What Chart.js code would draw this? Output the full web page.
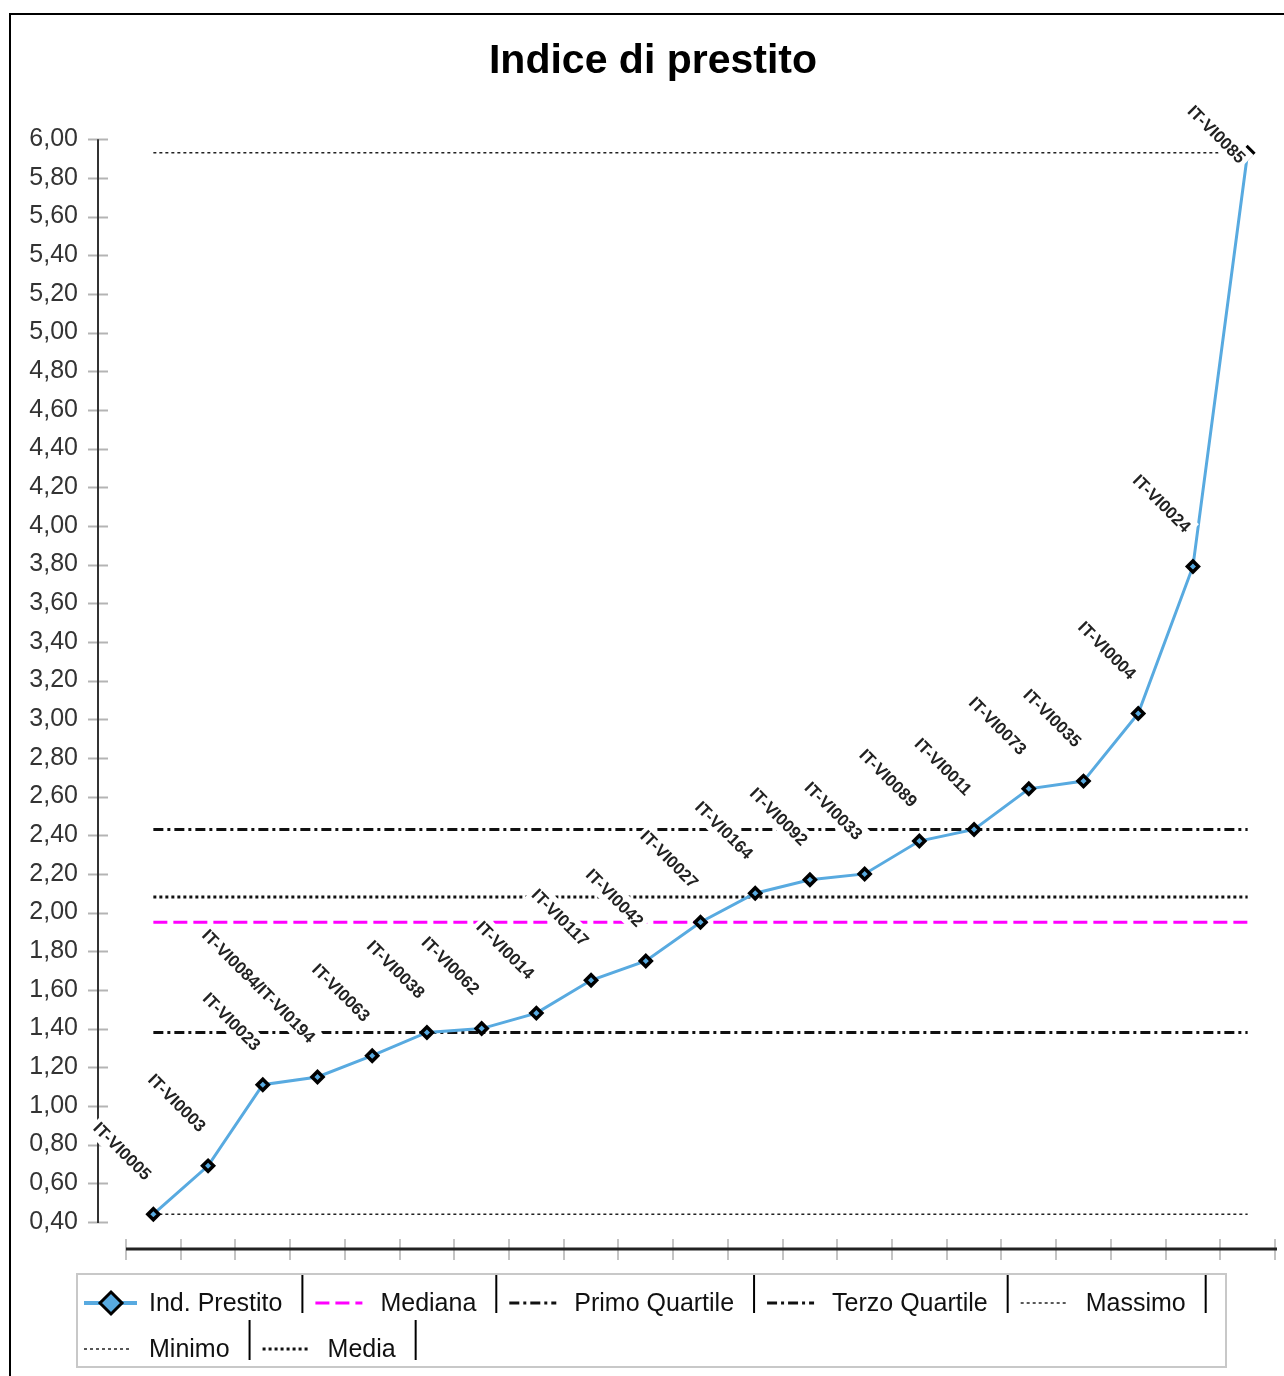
<!DOCTYPE html>
<html>
<head>
<meta charset="utf-8">
<script src="https://cdn.jsdelivr.net/npm/chart.js@4.4.1/dist/chart.umd.min.js"></script>
<style>
  html, body { margin: 0; padding: 0; background: #fff; overflow: hidden; }
  #cornice { position: absolute; left: 9px; top: 13px; width: 1400px; height: 1500px; border: 2px solid #000; }
  #wrap { position: absolute; left: 0; top: 0; width: 1284px; height: 1376px; }
</style>
</head>
<body>
<div id="cornice"></div>
<div id="wrap"><canvas id="grafico"></canvas></div>
<script>
// Dati
const categorie = ['IT-VI0005', 'IT-VI0003', 'IT-VI0023', 'IT-VI0084/IT-VI0194', 'IT-VI0063',
  'IT-VI0038', 'IT-VI0062', 'IT-VI0014', 'IT-VI0117', 'IT-VI0042', 'IT-VI0027', 'IT-VI0164',
  'IT-VI0092', 'IT-VI0033', 'IT-VI0089', 'IT-VI0011', 'IT-VI0073', 'IT-VI0035', 'IT-VI0004',
  'IT-VI0024', 'IT-VI0085'];
const indicePrestito = [0.44, 0.69, 1.11, 1.15, 1.26, 1.38, 1.40, 1.48, 1.65, 1.75, 1.95,
  2.10, 2.17, 2.20, 2.37, 2.43, 2.64, 2.68, 3.03, 3.79, 5.93];
const mediana = 1.95;
const primoQuartile = 1.38;
const terzoQuartile = 2.43;
const massimo = 5.93;
const minimo = 0.44;
const media = 2.08;
const yTicks = [0.4, 0.6, 0.8, 1.0, 1.2, 1.4, 1.6, 1.8, 2.0, 2.2, 2.4, 2.6, 2.8, 3.0, 3.2,
  3.4, 3.6, 3.8, 4.0, 4.2, 4.4, 4.6, 4.8, 5.0, 5.2, 5.4, 5.6, 5.8, 6.0];

const FONT = "'Liberation Sans', Arial, sans-serif";
const BLU = '#58aae0';

// serie costante per le linee statistiche
const costante = (v) => categorie.map(() => v);

const lineaStat = (label, valore, colore, larghezza, tratteggio) => ({
  label: label,
  data: costante(valore),
  borderColor: colore,
  backgroundColor: colore,
  borderWidth: larghezza,
  borderDash: tratteggio,
  pointRadius: 0,
  pointHoverRadius: 0,
  fill: false,
  tension: 0
});

// Assi disegnati a mano (stile JFreeChart)
const assiPlugin = {
  id: 'assi',
  beforeDatasetsDraw(chart) {
    const { ctx, chartArea, scales } = chart;
    const x = scales.x, y = scales.y;
    ctx.save();
    // asse y
    const ax = chartArea.left - 28;
    ctx.strokeStyle = '#b4b4b4';
    ctx.lineWidth = 2;
    yTicks.forEach(v => {
      const py = Math.round(y.getPixelForValue(v)) + 0.5;
      ctx.beginPath();
      ctx.moveTo(ax - 10, py);
      ctx.lineTo(ax + 10, py);
      ctx.stroke();
    });
    ctx.strokeStyle = '#333';
    ctx.lineWidth = 2;
    ctx.beginPath();
    ctx.moveTo(ax, y.getPixelForValue(yTicks[yTicks.length - 1]));
    ctx.lineTo(ax, y.getPixelForValue(yTicks[0]) + 1);
    ctx.stroke();
    // asse x
    const w = x.getPixelForValue(1) - x.getPixelForValue(0);
    const by = chartArea.bottom;
    ctx.strokeStyle = '#c4c4c4';
    ctx.lineWidth = 2;
    for (let i = 0; i <= categorie.length; i++) {
      const px = Math.round(x.getPixelForValue(0) - w / 2 + i * w);
      ctx.beginPath();
      ctx.moveTo(px, by - 10);
      ctx.lineTo(px, by + 11);
      ctx.stroke();
    }
    ctx.strokeStyle = '#222';
    ctx.lineWidth = 3;
    ctx.beginPath();
    ctx.moveTo(chartArea.left, by);
    ctx.lineTo(chartArea.right + 2, by);
    ctx.stroke();
    ctx.restore();
  }
};

// Etichette ruotate sopra i punti, con fondo bianco
const etichettePlugin = {
  id: 'etichette',
  afterDatasetsDraw(chart) {
    const { ctx, scales } = chart;
    const meta = chart.getDatasetMeta(0);
    const topLimite = scales.y.getPixelForValue(yTicks[yTicks.length - 1]) - 37;
    ctx.save();
    ctx.font = 'bold 17px ' + FONT;
    meta.data.forEach((pt, i) => {
      const testo = categorie[i];
      const tw = ctx.measureText(testo).width;
      const h = 17;
      const s = Math.SQRT1_2;
      const ax = pt.x - 5;
      let ay = pt.y - 37;
      const minAy = topLimite + s * (tw + h / 2);
      if (ay < minAy) ay = minAy;
      ctx.save();
      ctx.translate(ax, ay);
      ctx.rotate(Math.PI / 4);
      ctx.fillStyle = '#fff';
      ctx.fillRect(-tw - 3, -h / 2 - 3, tw + 7, h + 6);
      ctx.fillStyle = '#222';
      ctx.textAlign = 'right';
      ctx.textBaseline = 'middle';
      ctx.fillText(testo, 0, 1);
      ctx.restore();
    });
    ctx.restore();
  }
};

// Legenda a riquadro in basso
const legendaPlugin = {
  id: 'legenda',
  afterDraw(chart) {
    const { ctx } = chart;
    const ds = chart.data.datasets;
    const righe = [[0, 1, 2, 3, 4], [5, 6]];
    const rigaY = [1303, 1349];
    const rigaTop = [1275, 1320];
    const rigaBottom = [1313, 1360];
    ctx.save();
    ctx.strokeStyle = '#c8c8c8';
    ctx.lineWidth = 2;
    ctx.strokeRect(77, 1274, 1149, 93);
    ctx.font = '25px ' + FONT;
    ctx.textBaseline = 'middle';
    righe.forEach((riga, r) => {
      let x0 = 71;
      const cy = rigaY[r];
      riga.forEach(k => {
        const d = ds[k];
        ctx.save();
        ctx.strokeStyle = d.borderColor;
        ctx.lineWidth = d.borderWidth;
        ctx.setLineDash(d.borderDash || []);
        ctx.beginPath();
        if (k === 0) {
          ctx.lineWidth = 4;
          ctx.moveTo(x0 + 13, cy);
          ctx.lineTo(x0 + 66, cy);
          ctx.stroke();
          const cx = x0 + 40;
          ctx.setLineDash([]);
          ctx.beginPath();
          ctx.moveTo(cx, cy - 11);
          ctx.lineTo(cx + 11, cy);
          ctx.lineTo(cx, cy + 11);
          ctx.lineTo(cx - 11, cy);
          ctx.closePath();
          ctx.fillStyle = BLU;
          ctx.fill();
          ctx.strokeStyle = '#000';
          ctx.lineWidth = 3;
          ctx.stroke();
        } else {
          ctx.moveTo(x0 + 13, cy);
          ctx.lineTo(x0 + 60, cy);
          ctx.stroke();
        }
        ctx.restore();
        ctx.fillStyle = '#111';
        ctx.fillText(d.label, x0 + 78, cy + 1);
        const fine = x0 + 78 + ctx.measureText(d.label).width + 20;
        ctx.strokeStyle = '#000';
        ctx.lineWidth = 2;
        ctx.beginPath();
        ctx.moveTo(fine, rigaTop[r]);
        ctx.lineTo(fine, rigaBottom[r]);
        ctx.stroke();
        x0 = fine;
      });
    });
    ctx.restore();
  }
};

const canvas = document.getElementById('grafico');
canvas.width = 1284;
canvas.height = 1376;

new Chart(canvas, {
  type: 'line',
  data: {
    labels: categorie,
    datasets: [
      {
        label: 'Ind. Prestito',
        data: indicePrestito,
        borderColor: BLU,
        backgroundColor: BLU,
        borderWidth: 3,
        pointStyle: 'rectRot',
        pointRadius: 5.5,
        pointBorderWidth: 3.5,
        pointBorderColor: '#000',
        pointBackgroundColor: BLU,
        fill: false,
        tension: 0
      },
      lineaStat('Mediana', mediana, '#ff00ff', 3, [14, 6]),
      lineaStat('Primo Quartile', primoQuartile, '#111', 3, [10, 4, 3, 4]),
      lineaStat('Terzo Quartile', terzoQuartile, '#111', 3, [10, 4, 3, 4]),
      lineaStat('Massimo', massimo, '#222', 1.5, [3, 3]),
      lineaStat('Minimo', minimo, '#222', 1.5, [3, 3]),
      lineaStat('Media', media, '#111', 3, [3, 3])
    ]
  },
  options: {
    responsive: false,
    animation: false,
    devicePixelRatio: 1,
    layout: { padding: { left: 26, right: 4, top: 1, bottom: 127 } },
    plugins: {
      legend: { display: false },
      tooltip: { enabled: false },
      title: {
        display: true,
        text: 'Indice di prestito',
        color: '#000',
        font: { family: FONT, size: 41, weight: 'bold' },
        padding: { top: 36, bottom: 53 }
      }
    },
    scales: {
      x: {
        type: 'category',
        offset: true,
        display: false
      },
      y: {
        min: 0.26,
        max: 6.0,
        afterBuildTicks: (scale) => { scale.ticks = yTicks.map(v => ({ value: v })); },
        afterFit: (scale) => { scale.width = 100; },
        grid: { display: false, drawTicks: false },
        border: { display: false },
        ticks: {
          padding: 48,
          color: '#333',
          font: { family: FONT, size: 25 },
          callback: (v) => Number(v).toFixed(2).replace('.', ',')
        }
      }
    }
  },
  plugins: [assiPlugin, etichettePlugin, legendaPlugin]
});
</script>
</body>
</html>
